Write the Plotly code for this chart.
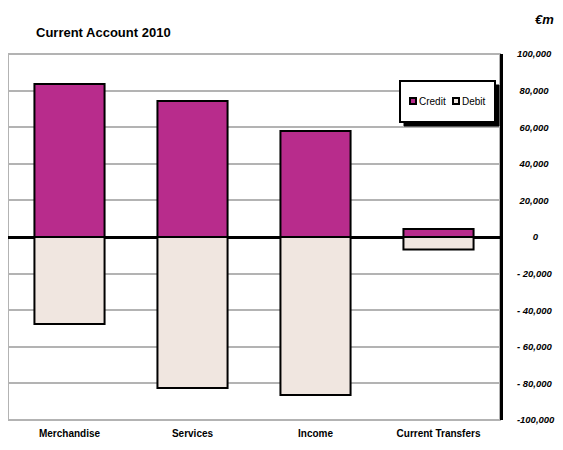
import plotly.graph_objects as go

categories = ["Merchandise", "Services", "Income", "Current Transfers"]
credit = [83600, 74300, 57900, 4400]
debit = [-47500, -82500, -86300, -6800]
tick_vals = [100000, 80000, 60000, 40000, 20000, 0, -20000, -40000, -60000, -80000, -100000]
tick_text = ["100,000", "80,000", "60,000", "40,000", "20,000", "0",
             "- 20,000", "- 40,000", "- 60,000", "- 80,000", "-100,000"]
series_names = ["Credit", "Debit"]
series_colors = ["#B82C8C", "#F0E6E0"]

FONT = "Liberation Sans, Arial, Helvetica, sans-serif"

# pad labels so they appear centred like the original
def pad(t):
    fs, ps = "\u2007", "\u2008"
    digits = sum(c.isdigit() for c in t)
    if t == "0":
        return fs * 3 + t
    if digits == 5 and not t.startswith("-"):
        return ps + t
    return t

tick_text_padded = [pad(t) for t in tick_text]

# page body has an 8px margin; plot area at screen x 8..500, y 54..420
def px(x):
    return (x - 8) / 492.0

def py(y):
    return (420 - y) / 366.0

fig = go.Figure()
for name, vals, col in zip(series_names, [credit, debit], series_colors):
    fig.add_trace(go.Bar(x=categories, y=vals, name=name, showlegend=False,
                         marker=dict(color=col, line=dict(color="black", width=2))))

shapes = [
    dict(type="rect", xref="paper", yref="paper", x0=0, x1=1, y0=0, y1=1,
         line=dict(color="#b3b3b3", width=2), layer="below"),
    # legend shadow and box
    dict(type="rect", xref="paper", yref="paper", x0=px(404), x1=px(499), y0=py(126), y1=py(85),
         line=dict(color="black", width=1), fillcolor="black", layer="above"),
    dict(type="rect", xref="paper", yref="paper", x0=px(400), x1=px(495), y0=py(122), y1=py(81),
         line=dict(color="black", width=2), fillcolor="white", layer="above"),
]
annotations = [
    dict(text="<b><i>€m</i></b>", xref="paper", yref="paper", x=px(544), y=py(20),
         xanchor="center", yanchor="middle", showarrow=False, font=dict(size=13, family=FONT)),
]
legend_sq_x = [410, 453]
for sx, name, col in zip(legend_sq_x, series_names, series_colors):
    shapes.append(dict(type="rect", xref="paper", yref="paper", x0=px(sx), x1=px(sx + 6),
                       y0=py(104), y1=py(98), line=dict(color="black", width=2),
                       fillcolor=col, layer="above"))
    annotations.append(dict(text=name, xref="paper", yref="paper", x=px(sx + 7), y=py(101),
                            xanchor="left", yanchor="middle", showarrow=False,
                            font=dict(size=10, family=FONT, color="black")))

fig.update_layout(
    width=555, height=434,
    margin=dict(l=0, r=63, t=46, b=22),
    paper_bgcolor="white", plot_bgcolor="white",
    barmode="relative", bargap=0.43,
    font=dict(family=FONT, color="black"),
    title=dict(text="<b>Current Account 2010</b>", x=px(36), xref="paper", xanchor="left",
               y=1 - 24 / 434, yanchor="middle", font=dict(size=13, family=FONT)),
    showlegend=False,
    xaxis=dict(showgrid=False, showline=False, ticks="", zeroline=False,
               tickfont=dict(size=10, weight="bold", family=FONT), ticklabelstandoff=6),
    yaxis=dict(side="right", range=[-100000, 100000], tickvals=tick_vals, ticktext=tick_text_padded,
               showgrid=True, gridcolor="#b3b3b3", gridwidth=2,
               zeroline=True, zerolinecolor="black", zerolinewidth=3,
               showline=True, linecolor="black", linewidth=3, ticks="",
               ticklabelstandoff=12,
               tickfont=dict(size=9.5, weight="bold", style="italic", family=FONT)),
    shapes=shapes,
    annotations=annotations,
)

fig.write_html("out.html")
